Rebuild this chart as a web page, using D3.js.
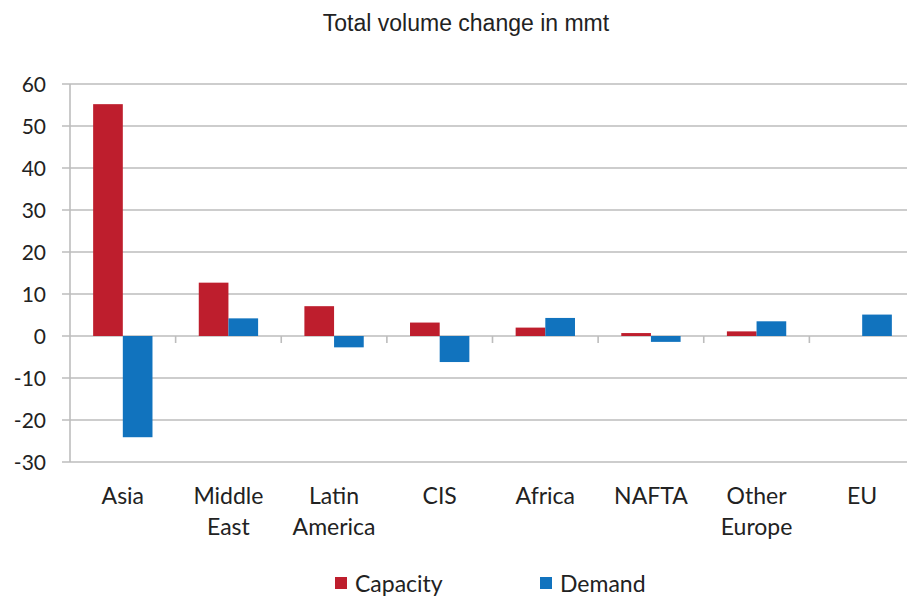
<!DOCTYPE html>
<html>
<head>
<meta charset="utf-8">
<script src="https://cdn.jsdelivr.net/npm/d3@7"></script>
<style>
  body { margin: 0; background: #fff; }
  svg { display: block; }
</style>
</head>
<body>
<div id="chart"></div>
<script>
const categories = [["Asia"], ["Middle", "East"], ["Latin", "America"], ["CIS"], ["Africa"], ["NAFTA"], ["Other", "Europe"], ["EU"]]
const capacity = [55.2, 12.7, 7.1, 3.2, 2.0, 0.7, 1.1, 0]
const demand = [-24.1, 4.2, -2.7, -6.2, 4.3, -1.4, 3.5, 5.1]
const yTicks = [60, 50, 40, 30, 20, 10, 0, -10, -20, -30]
const seriesNames = ["Capacity", "Demand"]
const colors = ["#be1e2d", "#1173be"]

const width = 907
const height = 597
const margin = {top: 84, right: -8, bottom: 135, left: 70}

const svg = d3.select("#chart").append("svg")
    .attr("width", width)
    .attr("height", height)

const x = d3.scaleBand()
    .domain(d3.range(categories.length))
    .range([margin.left, width - margin.right])

const y = d3.scaleLinear()
    .domain([-30, 60])
    .range([height - margin.bottom, margin.top])

const inner = d3.scaleBand()
    .domain([0, 1])
    .range([0, x.bandwidth()])
    .paddingOuter(0.78)
    .paddingInner(0)

// gridlines
svg.append("g")
    .selectAll("line")
    .data(yTicks)
    .enter()
    .append("line")
    .attr("x1", 62)
    .attr("x2", width)
    .attr("y1", d => y(d))
    .attr("y2", d => y(d))
    .style("stroke", "#bdbdbd")
    .style("stroke-width", 1.6)

// y axis line
svg.append("line")
    .attr("x1", margin.left)
    .attr("x2", margin.left)
    .attr("y1", y(60))
    .attr("y2", y(-30))
    .style("stroke", "#bdbdbd")
    .style("stroke-width", 1.6)

// y labels
svg.append("g")
    .selectAll("text")
    .data(yTicks)
    .enter()
    .append("text")
    .attr("x", 46)
    .attr("y", d => y(d))
    .attr("dy", "0.36em")
    .attr("text-anchor", "end")
    .style("font-family", "Lato, 'Open Sans', sans-serif")
    .style("font-size", "21px")
    .style("fill", "#222")
    .text(d => d)

// category ticks on the zero line
svg.append("g")
    .selectAll("line")
    .data(d3.range(1, categories.length))
    .enter()
    .append("line")
    .attr("x1", d => x(d))
    .attr("x2", d => x(d))
    .attr("y1", y(0))
    .attr("y2", y(0) + 7)
    .style("stroke", "#bdbdbd")
    .style("stroke-width", 1.6)

const series = [capacity, demand]
series.forEach((vals, s) => {
    svg.append("g")
        .selectAll("rect")
        .data(vals)
        .enter()
        .append("rect")
        .attr("x", (d, i) => x(i) + inner(s))
        .attr("width", inner.bandwidth())
        .attr("y", d => y(Math.max(0, d)))
        .attr("height", d => Math.abs(y(d) - y(0)))
        .style("fill", colors[s])
})

// category labels
const labels = svg.append("g")
    .selectAll("text")
    .data(categories)
    .enter()
    .append("text")
    .attr("x", (d, i) => x(i) + x.bandwidth() / 2)
    .attr("y", 504)
    .attr("text-anchor", "middle")
    .style("font-family", "Lato, 'Open Sans', sans-serif")
    .style("font-size", "23px")
    .style("fill", "#222")
labels.selectAll("tspan")
    .data(d => d)
    .enter()
    .append("tspan")
    .attr("x", function () { return this.parentNode.getAttribute("x") })
    .attr("dy", (d, i) => i === 0 ? 0 : 31)
    .text(d => d)

// title
svg.append("text")
    .attr("x", 466)
    .attr("y", 31)
    .attr("text-anchor", "middle")
    .style("font-family", "'Liberation Sans', Arial, sans-serif")
    .style("font-size", "23px")
    .style("fill", "#222")
    .text("Total volume change in mmt")

// legend
const legendX = [335, 540]
seriesNames.forEach((name, i) => {
    svg.append("rect")
        .attr("x", legendX[i])
        .attr("y", 577)
        .attr("width", 12)
        .attr("height", 12)
        .style("fill", colors[i])
    svg.append("text")
        .attr("x", legendX[i] + 20)
        .attr("y", 592)
        .style("font-family", "Lato, 'Open Sans', sans-serif")
        .style("font-size", "23px")
        .style("fill", "#222")
        .text(name)
})
</script>
</body>
</html>
